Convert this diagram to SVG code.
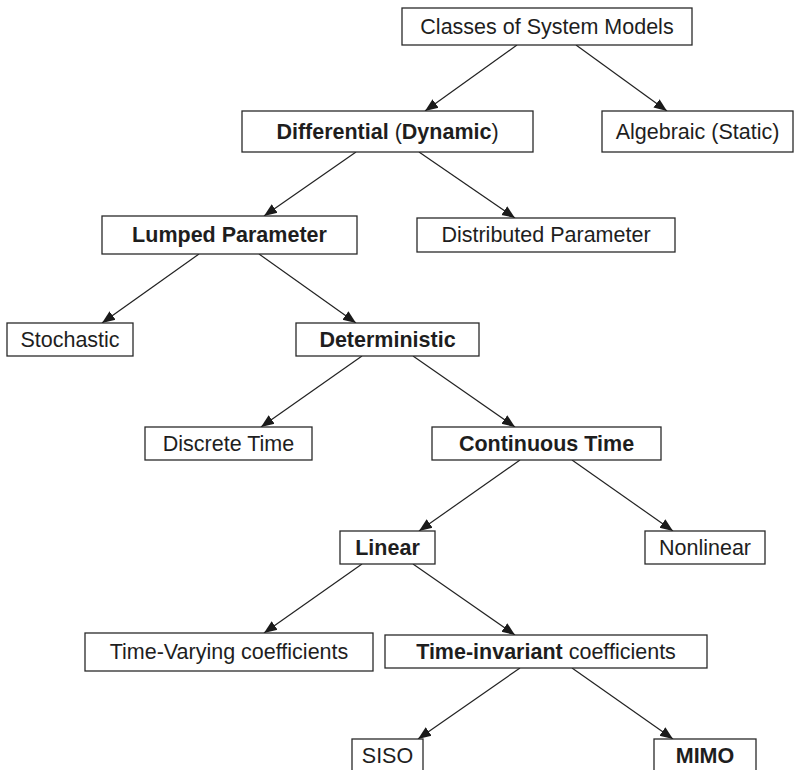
<svg xmlns="http://www.w3.org/2000/svg" width="799" height="770" viewBox="0 0 799 770">
  <style>
    .box { fill: #ffffff; stroke: #2a2a2a; stroke-width: 1.3; }
    .lbl { font-family: "Liberation Sans", Arial, Helvetica, sans-serif; font-size: 21.5px; fill: #1e1e1e; text-anchor: middle; }
    .b { font-weight: bold; }
    .edge { stroke: #222222; stroke-width: 1.2; fill: none; marker-end: url(#tip); }
  </style>
  <defs>
    <marker id="tip" markerUnits="userSpaceOnUse" markerWidth="14" markerHeight="12" viewBox="0 0 14 12" refX="13" refY="6" orient="auto">
      <path d="M0,0.8 L13,6 L0,11.2 Z" fill="#1a1a1a"/>
    </marker>
  </defs>
  <rect width="799" height="770" fill="#ffffff"/>

  <g id="connectors">
    <line class="edge" x1="517" y1="45" x2="425" y2="111"/>
    <line class="edge" x1="576" y1="45" x2="667" y2="111"/>
    <line class="edge" x1="356" y1="152" x2="264" y2="216"/>
    <line class="edge" x1="419" y1="152" x2="515" y2="218"/>
    <line class="edge" x1="199" y1="254" x2="102" y2="323"/>
    <line class="edge" x1="259" y1="254" x2="356" y2="323"/>
    <line class="edge" x1="362" y1="356" x2="261" y2="427"/>
    <line class="edge" x1="413" y1="356" x2="515" y2="427"/>
    <line class="edge" x1="520" y1="460" x2="419" y2="531"/>
    <line class="edge" x1="572" y1="460" x2="673" y2="531"/>
    <line class="edge" x1="362" y1="564" x2="264" y2="633"/>
    <line class="edge" x1="413" y1="564" x2="515" y2="635"/>
    <line class="edge" x1="520" y1="668" x2="418" y2="739"/>
    <line class="edge" x1="572" y1="668" x2="673" y2="739"/>
  </g>

  <g id="classes">
    <rect class="box" x="402" y="8" width="290" height="37"/>
    <text class="lbl" x="547" y="34">Classes of System Models</text>
  </g>
  <g id="differential">
    <rect class="box" x="242" y="111" width="291" height="41"/>
    <text class="lbl" x="387.5" y="139"><tspan class="b">Differential</tspan> (<tspan class="b">Dynamic</tspan>)</text>
  </g>
  <g id="algebraic">
    <rect class="box" x="602" y="111" width="191" height="41"/>
    <text class="lbl" x="697.5" y="139">Algebraic (Static)</text>
  </g>
  <g id="lumped">
    <rect class="box" x="102" y="216" width="255" height="38"/>
    <text class="lbl b" x="229.5" y="242">Lumped Parameter</text>
  </g>
  <g id="distributed">
    <rect class="box" x="417" y="218" width="258" height="34"/>
    <text class="lbl" x="546" y="242">Distributed Parameter</text>
  </g>
  <g id="stochastic">
    <rect class="box" x="7" y="323" width="126" height="33"/>
    <text class="lbl" x="70" y="347">Stochastic</text>
  </g>
  <g id="deterministic">
    <rect class="box" x="296" y="323" width="183" height="33"/>
    <text class="lbl b" x="387.5" y="347">Deterministic</text>
  </g>
  <g id="discrete">
    <rect class="box" x="145" y="427" width="167" height="33"/>
    <text class="lbl" x="228.5" y="451">Discrete Time</text>
  </g>
  <g id="continuous">
    <rect class="box" x="432" y="427" width="229" height="33"/>
    <text class="lbl b" x="546.5" y="451">Continuous Time</text>
  </g>
  <g id="linear">
    <rect class="box" x="340" y="531" width="95" height="33"/>
    <text class="lbl b" x="387.5" y="555">Linear</text>
  </g>
  <g id="nonlinear">
    <rect class="box" x="645" y="531" width="120" height="33"/>
    <text class="lbl" x="705" y="555">Nonlinear</text>
  </g>
  <g id="time-varying">
    <rect class="box" x="85" y="633" width="288" height="38"/>
    <text class="lbl" x="229" y="659">Time-Varying coefficients</text>
  </g>
  <g id="time-invariant">
    <rect class="box" x="385" y="635" width="322" height="33"/>
    <text class="lbl" x="546" y="659"><tspan class="b">Time-invariant</tspan> coefficients</text>
  </g>
  <g id="siso">
    <rect class="box" x="352" y="739" width="71" height="40"/>
    <text class="lbl" x="387.5" y="763">SISO</text>
  </g>
  <g id="mimo">
    <rect class="box" x="654" y="739" width="102" height="40"/>
    <text class="lbl b" x="705" y="763">MIMO</text>
  </g>
</svg>
